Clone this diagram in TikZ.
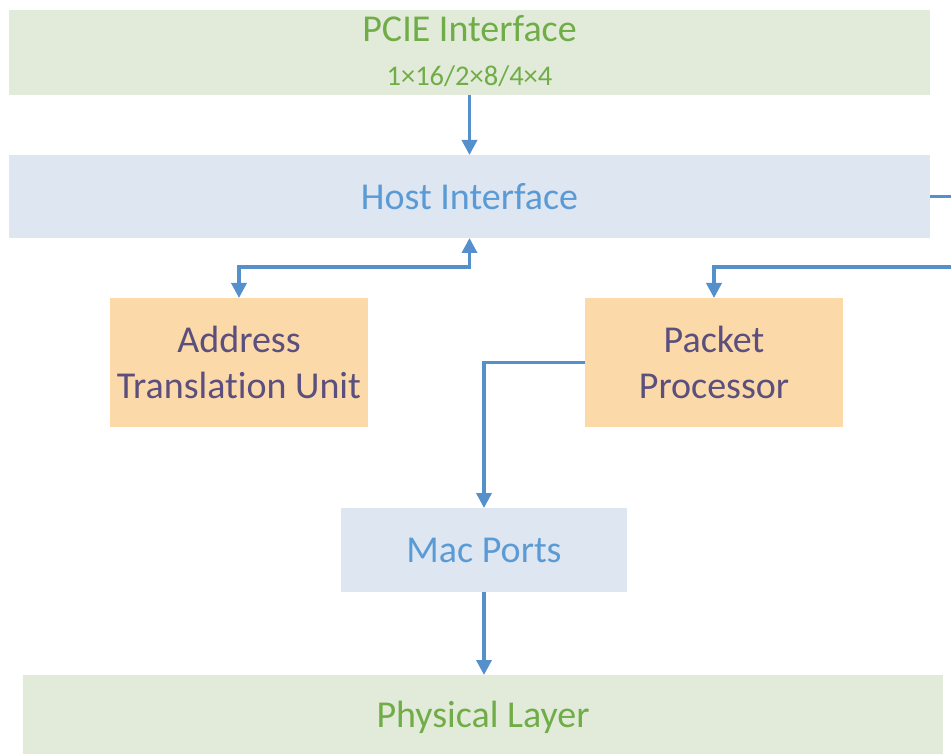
\documentclass[tikz,border=0pt]{standalone}
\usepackage{fontspec}
\setmainfont{Carlito}[Ligatures={NoCommon,NoContextual}]
\usetikzlibrary{arrows.meta}
\definecolor{greenfill}{HTML}{E2EBDA}
\definecolor{greentext}{HTML}{70AD47}
\definecolor{bluefill}{HTML}{DEE6F2}
\definecolor{bluetext}{HTML}{5B9BD5}
\definecolor{orangefill}{HTML}{FCD9A9}
\definecolor{purpletext}{HTML}{5A4F7D}
\definecolor{wireblue}{HTML}{5590CC}
\begin{document}
\begin{tikzpicture}[x=1pt,y=-1pt,
  box/.style={inner sep=0pt, outer sep=0pt, anchor=center, align=center,
    font=\fontsize{38}{46}\selectfont},
  greenbox/.style={box, fill=greenfill, text=greentext},
  bluebox/.style={box, fill=bluefill, text=bluetext},
  orangebox/.style={box, fill=orangefill, text=purpletext},
  wire/.style={draw=wireblue, line width=3.5pt},
  arr/.style={wire, -{Triangle[width=15pt,length=15pt]}},
  dblarr/.style={wire, {Triangle[width=15pt,length=15pt]}-{Triangle[width=15pt,length=15pt]}}]
\useasboundingbox (0,0) rectangle (951,754);
\clip (0,0) rectangle (951,754);

% blocks
\node[greenbox, minimum width=921pt, minimum height=85pt] (pcie) at (469.5,52.5) {};
\node[text=greentext, inner sep=0pt, font=\fontsize{38}{46}\selectfont] (pcietitle) at (469.5,29) {PCIE Interface};
\node[text=greentext, inner sep=0pt, font=\fontsize{28.5}{34}\selectfont] (pcielanes) at (469.5,76) {1×16/2×8/4×4};
\node[bluebox, minimum width=921pt, minimum height=83pt] (host) at (469.5,196.5) {Host Interface};
\node[orangebox, minimum width=258pt, minimum height=129pt] (atu) at (239,362.5) {Address\\Translat\kern0pt ion Unit};
\node[orangebox, minimum width=258pt, minimum height=129pt] (pp) at (714,362.5) {Packet\\Processor};
\node[bluebox, minimum width=286pt, minimum height=84pt] (mac) at (484,550) {Mac Ports};
\node[greenbox, minimum width=920pt, minimum height=84pt] (phys) at (483,717) {Physical Layer};

% routing points
\coordinate (loop) at (975,196.5);
\coordinate (busrow) at (0,267);

% connectors
\draw[arr] (pcie.south) -- (host.north);
\draw[dblarr] (atu.north) |- (host.south |- busrow) -- (host.south);
\draw[arr] (host.east) -- (loop) |- (pp.north |- busrow) -- (pp.north);
\draw[arr] (pp.west) -| (mac.north);
\draw[arr] (mac.south) -- (mac.south |- phys.north);
\end{tikzpicture}
\end{document}
